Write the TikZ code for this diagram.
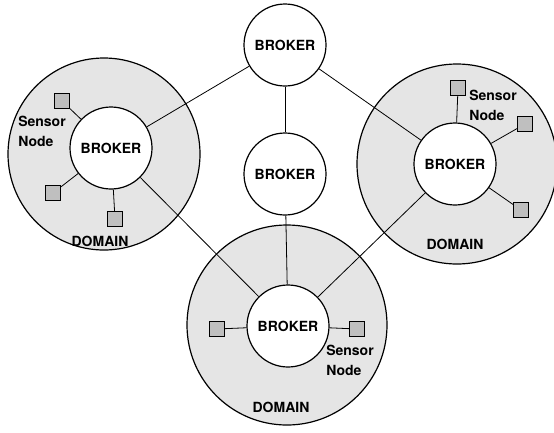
\documentclass[tikz,border=0pt]{standalone}
\usepackage{fontspec}
\setmainfont{TeX Gyre Heros}
\definecolor{domaingray}{gray}{0.90}
\definecolor{sensorgray}{gray}{0.75}
\tikzset{
	domain/.style={circle, draw, line width=1.2pt, fill=domaingray, minimum size=#1, inner sep=0pt},
	broker/.style={circle, draw, line width=1.2pt, fill=white, minimum size=82pt, inner sep=0pt, font=\fontsize{14}{17}\selectfont\bfseries},
	sensor/.style={rectangle, draw, line width=0.8pt, fill=sensorgray, minimum size=15pt, inner sep=0pt},
	label/.style={font=\fontsize{14}{20}\selectfont\bfseries, align=left, inner sep=0pt},
	link/.style={line width=0.8pt}
}
\begin{document}
\begin{tikzpicture}[x=1pt, y=-1pt]
	\useasboundingbox (0,0) rectangle (554,432);
	
	% Domaenen
	\node[domain=192pt] (dl) at (104,154) {};
	\node[domain=200pt] (dr) at (457,164) {};
	\node[domain=200pt] (db) at (287,325) {};
	
	% Broker
	\node[broker] (bt) at (285,45) {BROKER};
	\node[broker] (bm) at (285,174) {BROKER};
	\node[broker] (bl) at (111,148) {BROKER};
	\node[broker] (br) at (455,164) {BROKER};
	\node[broker] (bb) at (288,326) {BROKER};
	
	\draw[link] (bt) -- (bl);
	\draw[link] (bt) -- (br);
	\draw[link] (bt) -- (bm);
	\draw[link] (bm) -- (bb);
	\draw[link] (bl) -- (bb);
	\draw[link] (br) -- (bb);
	
	% Sensoren links
	\node[sensor] (sl1) at (62,101) {};
	\node[sensor] (sl2) at (53,193) {};
	\node[sensor] (sl3) at (115,219) {};
	\draw[link] (bl) -- (sl1);
	\draw[link] (bl) -- (sl2);
	\draw[link] (bl) -- (sl3);
	
	% Sensoren rechts
	\node[sensor] (sr1) at (458,88) {};
	\node[sensor] (sr2) at (525,124) {};
	\node[sensor] (sr3) at (521,210) {};
	\draw[link] (br) -- (sr1);
	\draw[link] (br) -- (sr2);
	\draw[link] (br) -- (sr3);
	
	% Sensoren unten
	\node[sensor] (sb1) at (217,329) {};
	\node[sensor] (sb2) at (357,329) {};
	\draw[link] (bb) -- (sb1);
	\draw[link] (bb) -- (sb2);
	
	% Beschriftungen
	\node[label] (tl) at (42,131) {Sensor\\Node};
	\node[label] (tr) at (493,105) {Sensor\\Node};
	\node[label] (tb) at (350,360) {Sensor\\Node};
	\node[label] (dlt) at (100,241) {DOMAIN};
	\node[label] (drt) at (455,244) {DOMAIN};
	\node[label] (dbt) at (281,407) {DOMAIN};
\end{tikzpicture}
\end{document}
